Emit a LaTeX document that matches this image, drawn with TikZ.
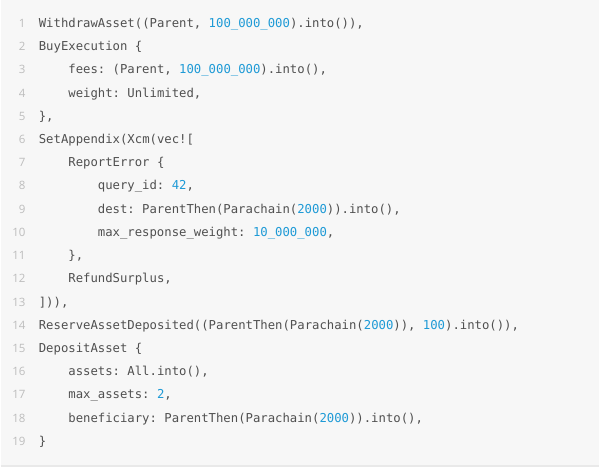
\documentclass[tikz,border=0pt]{standalone}
\usepackage{fontspec}
\setmonofont{DejaVu Sans Mono}
\setsansfont{Open Sans}
\definecolor{pagegray}{HTML}{F7F7F7}
\definecolor{rulegray}{HTML}{E9E9E9}
\definecolor{codegray}{HTML}{505050}
\definecolor{linegray}{HTML}{BDBDBD}
\definecolor{numblue}{HTML}{1E9AD6}
\newcommand{\nm}[1]{\textcolor{numblue}{#1}}
\tikzset{
  codeline/.style={anchor=base west, inner sep=0pt, text=codegray, font=\ttfamily\fontsize{12.3}{14}\selectfont},
  lineno/.style={anchor=base east, inner sep=0pt, text=linegray, font=\sffamily\fontsize{11.5}{14}\selectfont}
}
\begin{document}
\begin{tikzpicture}[x=1pt,y=-1pt]
\fill[pagegray] (0,0) rectangle (600,468);
\draw[rulegray,line width=1.5pt] (0,467.2)--(600,467.2);
% listing, one node per line: number / indent / text
\foreach \i/\d/\t in {
 1/0/{WithdrawAsset((Parent, \nm{100\_000\_000}).into()),},
 2/0/{BuyExecution \{},
 3/4/{fees: (Parent, \nm{100\_000\_000}).into(),},
 4/4/{weight: Unlimited,},
 5/0/{\},},
 6/0/{SetAppendix(Xcm(vec![},
 7/4/{ReportError \{},
 8/8/{query\_id: \nm{42},},
 9/8/{dest: ParentThen(Parachain(\nm{2000})).into(),},
 10/8/{max\_response\_weight: \nm{10\_000\_000},},
 11/4/{\},},
 12/4/{RefundSurplus,},
 13/0/{])),},
 14/0/{ReserveAssetDeposited((ParentThen(Parachain(\nm{2000})), \nm{100}).into()),},
 15/0/{DepositAsset \{},
 16/4/{assets: All.into(),},
 17/4/{max\_assets: \nm{2},},
 18/4/{beneficiary: ParentThen(Parachain(\nm{2000})).into(),},
 19/0/{\}}}
 {
 \node[lineno] (n\i) at (25,{27.5+(\i-1)*23.28}) {\i};
 \node[codeline] (c\i) at ({38+\d*7.4},{27.5+(\i-1)*23.28}) {\t};
 }
\end{tikzpicture}
\end{document}
